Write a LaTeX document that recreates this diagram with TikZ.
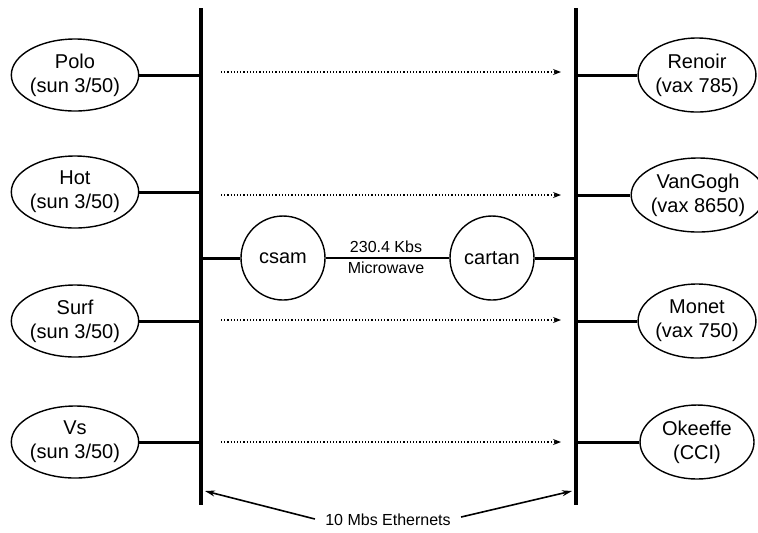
\documentclass[tikz,border=0pt]{standalone}
\usepackage{fontspec}
\setmainfont{Liberation Sans}
\usetikzlibrary{arrows.meta,shapes.geometric}
\begin{document}
\begin{tikzpicture}[x=0.5pt,y=-0.5pt,
  host/.style={ellipse,draw,line width=0.7pt,inner sep=0pt,align=center,font=\fontsize{10}{12}\selectfont},
  lhost/.style={host,minimum width=62pt,minimum height=36pt},
  rhost/.style={host,minimum width=57pt,minimum height=37pt},
  gw/.style={circle,draw,line width=0.7pt,inner sep=0pt,minimum size=42pt,font=\fontsize{10}{12}\selectfont},
  bus/.style={line width=2pt},
  stub/.style={line width=1.5pt},
  flow/.style={densely dotted,line width=0.6pt,-{Stealth[length=4pt,width=3pt]}},
  small/.style={font=\fontsize{8}{9.5}\selectfont,inner sep=1pt},
  pointer/.style={line width=0.8pt,-{Stealth[length=5pt,width=3pt]}}]
\useasboundingbox (0,0) rectangle (758,532);
% buses
\coordinate (lt) at (201,8);
\coordinate (lb) at (201,505);
\coordinate (rt) at (576,8);
\coordinate (rb) at (576,505);
\draw[bus] (lt) -- (lb);
\draw[bus] (rt) -- (rb);
% left hosts
\node[lhost] (polo) at (75,75) {Polo\\(sun 3/50)};
\node[lhost] (hot) at (75,192) {Hot\\(sun 3/50)};
\node[lhost] (surf) at (75,321) {Surf\\(sun 3/50)};
\node[lhost] (vs) at (75,442) {Vs\\(sun 3/50)};
% right hosts
\node[rhost] (renoir) at (697,75) {Renoir\\(vax 785)};
\node[rhost] (vangogh) at (698,195) {VanGogh\\(vax 8650)};
\node[rhost] (monet) at (697,321) {Monet\\(vax 750)};
\node[rhost] (okeeffe) at (697,442) {Okeeffe\\(CCI)};
% stubs
\foreach \n in {polo,hot,surf,vs}{\draw[stub] (\n.east) -- (\n.east -| lt);}
\foreach \n in {renoir,vangogh,monet,okeeffe}{\draw[stub] (\n.west) -- (\n.west -| rt);}
% gateways
\node[gw] (csam) at (283,258) {csam};
\node[gw] (cartan) at (492,258) {cartan};
\draw[stub] (csam.west -| lt) -- (csam.west);
\draw[stub] (cartan.east) -- (cartan.east -| rt);
\draw[line width=0.6pt] (csam.east) -- (cartan.west);
\node[small] (rate) at (386,247) {230.4 Kbs};
\node[small] (mw) at (386,268) {Microwave};
% dotted flows
\foreach \y/\i in {72/1,195/2,320/3,442/4}{
  \coordinate (fs\i) at (221,\y);
  \coordinate (fe\i) at (561,\y);
  \draw[flow] (fs\i) -- (fe\i);
}
% ethernet label
\node[small] (eth) at (388,520) {10 Mbs Ethernets};
\coordinate (lp) at (205,491);
\coordinate (rp) at (572,491);
\draw[pointer] (eth.west) ++(-8,-1) -- (lp);
\draw[pointer] (eth.east) ++(8,-3) -- (rp);
\end{tikzpicture}
\end{document}
